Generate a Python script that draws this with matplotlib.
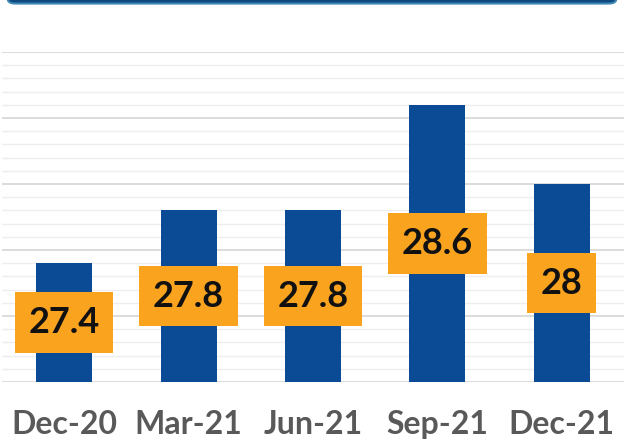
import numpy as np
import matplotlib.pyplot as plt
from matplotlib.patches import FancyBboxPatch
from matplotlib.ticker import MultipleLocator

quarters = ["Dec-20", "Mar-21", "Jun-21", "Sep-21", "Dec-21"]
values = [27.4, 27.8, 27.8, 28.6, 28]
labels = ["27.4", "27.8", "27.8", "28.6", "28"]

base = 26.5
bar_color = "#0b4b96"
box_color = "#f9a31e"

fig = plt.figure(figsize=(6.24, 4.42), dpi=100)
ax = fig.add_axes([0.003, 0.1357, 0.997, 0.7466])

x = np.arange(len(quarters))
heights = np.array(values) - base
ax.bar(x, heights, bottom=base, width=0.45, color=bar_color, zorder=3)

# labels centred inside the bars, Excel style
for xi, v, lab in zip(x, values, labels):
    ax.text(xi, (v + base) / 2, lab, ha="center", va="center",
            fontsize=26, fontweight="bold", family="Lato", color="#111111",
            zorder=4,
            bbox=dict(boxstyle="square,pad=0.38", fc=box_color, ec="none"))

ax.set_xlim(-0.5, len(quarters) - 0.5)
ax.set_ylim(base, 29.0)
ax.yaxis.set_major_locator(MultipleLocator(0.5))
ax.yaxis.set_minor_locator(MultipleLocator(0.1))
ax.grid(axis="y", which="major", color="#d6d6d6", linewidth=1.2, zorder=0)
ax.grid(axis="y", which="minor", color="#eeeeee", linewidth=1.0, zorder=0)
ax.set_axisbelow(True)

ax.set_xticks(x)
ax.set_xticklabels(quarters, fontsize=23, fontweight="bold", family="Lato",
                   color="#595959")
ax.tick_params(axis="x", length=0, pad=20)
ax.tick_params(axis="y", which="both", length=0, labelleft=False)
for s in ax.spines.values():
    s.set_visible(False)

# top banner, cut off by the figure edge
banner = FancyBboxPatch((0.012, 0.992), 0.976, 0.2,
                        boxstyle="round,pad=0,rounding_size=0.012",
                        transform=fig.transFigure, fc="#0e4a7e",
                        ec="#3f86b8", lw=1.5)
fig.patches.append(banner)

fig.savefig("out.png", dpi=100)
